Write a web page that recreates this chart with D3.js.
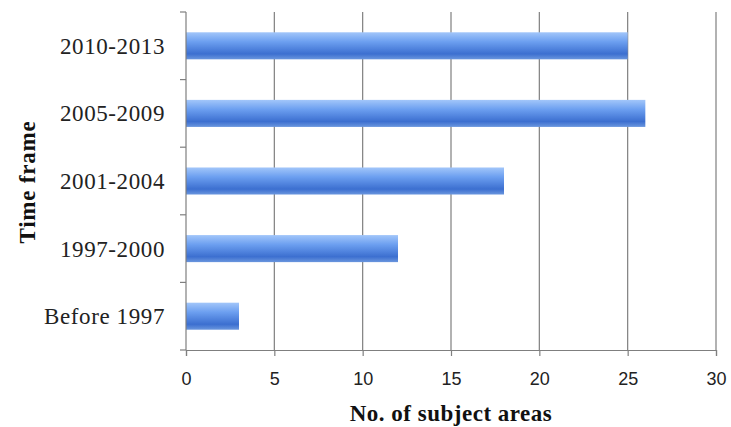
<!DOCTYPE html>
<html><head><meta charset="utf-8">
<script src="https://cdn.jsdelivr.net/npm/d3@7"></script>
<style>body{margin:0;background:#fff}svg{display:block}</style>
</head><body>
<script>
const categories = ["2010-2013", "2005-2009", "2001-2004", "1997-2000", "Before 1997"];
const values = [25, 26, 18, 12, 3];
const xTicks = [0, 5, 10, 15, 20, 25, 30];

const W = 731, H = 427;
const m = {left: 186, right: 15, top: 12, bottom: 77};
const svg = d3.select("body").append("svg").attr("width", W).attr("height", H);

const defs = svg.append("defs");
const grad = defs.append("linearGradient").attr("id", "barFill")
  .attr("x1", 0).attr("y1", 0).attr("x2", 0).attr("y2", 1);
[["0%", "#a2c6fa"], ["35%", "#6c9ff0"], ["80%", "#3c6fd0"], ["100%", "#6a96de"]]
  .forEach(([o, c]) => grad.append("stop").attr("offset", o).attr("stop-color", c));

const x = d3.scaleLinear().domain([0, 30]).range([m.left, W - m.right]);
const y = d3.scaleBand().domain(categories).range([m.top, H - m.bottom]).paddingInner(0.6).paddingOuter(0.3);

const serif = "Liberation Serif, Times New Roman, serif";

// vertical gridlines
svg.append("g").selectAll("line").data(xTicks.slice(1)).join("line")
  .attr("x1", d => x(d)).attr("x2", d => x(d))
  .attr("y1", m.top).attr("y2", H - m.bottom)
  .attr("stroke", "#7f7f7f").attr("stroke-width", 1.2);

// bars
svg.append("g").selectAll("rect").data(categories).join("rect")
  .attr("x", x(0)).attr("y", d => y(d))
  .attr("width", (d, i) => x(values[i]) - x(0))
  .attr("height", y.bandwidth())
  .attr("fill", "url(#barFill)");

// x axis
const xAxis = svg.append("g").attr("transform", `translate(0,${H - m.bottom})`)
  .call(d3.axisBottom(x).tickValues(xTicks).tickSize(6).tickPadding(16));
xAxis.select(".domain").attr("stroke", "#7f7f7f").attr("stroke-width", 1.2);
xAxis.selectAll(".tick line").attr("stroke", "#7f7f7f").attr("stroke-width", 1.2);
xAxis.selectAll("text").attr("font-family", "Liberation Sans, Arial, sans-serif")
  .attr("font-size", 18).attr("fill", "#222");

// y axis: ticks at band boundaries
const bounds = d3.range(categories.length + 1).map(i => m.top + i * (H - m.bottom - m.top) / categories.length);
const yAxis = svg.append("g");
yAxis.append("line").attr("x1", m.left).attr("x2", m.left)
  .attr("y1", m.top).attr("y2", H - m.bottom)
  .attr("stroke", "#7f7f7f").attr("stroke-width", 1.2);
yAxis.selectAll("line.tk").data(bounds).join("line").attr("class", "tk")
  .attr("x1", m.left - 6).attr("x2", m.left)
  .attr("y1", d => d).attr("y2", d => d)
  .attr("stroke", "#7f7f7f").attr("stroke-width", 1.2);
yAxis.selectAll("text").data(categories).join("text")
  .attr("x", m.left - 21).attr("y", d => y(d) + y.bandwidth() / 2)
  .attr("dy", "0.35em").attr("text-anchor", "end")
  .attr("font-family", serif).attr("letter-spacing", "0.6px")
  .attr("font-size", 23).attr("fill", "#222").text(d => d);

// axis titles
svg.append("text").attr("x", (x(0) + x(30)) / 2).attr("y", 421)
  .attr("text-anchor", "middle").attr("font-family", serif)
  .attr("font-weight", "bold").attr("font-size", 23).attr("letter-spacing", "0.5px").attr("fill", "#111")
  .text("No. of subject areas");
svg.append("text").attr("transform", `translate(35,${(m.top + H - m.bottom) / 2 + 1}) rotate(-90)`)
  .attr("text-anchor", "middle").attr("font-family", serif)
  .attr("font-weight", "bold").attr("font-size", 23).attr("letter-spacing", "0.8px").attr("fill", "#111")
  .text("Time frame");
</script>
</body></html>
